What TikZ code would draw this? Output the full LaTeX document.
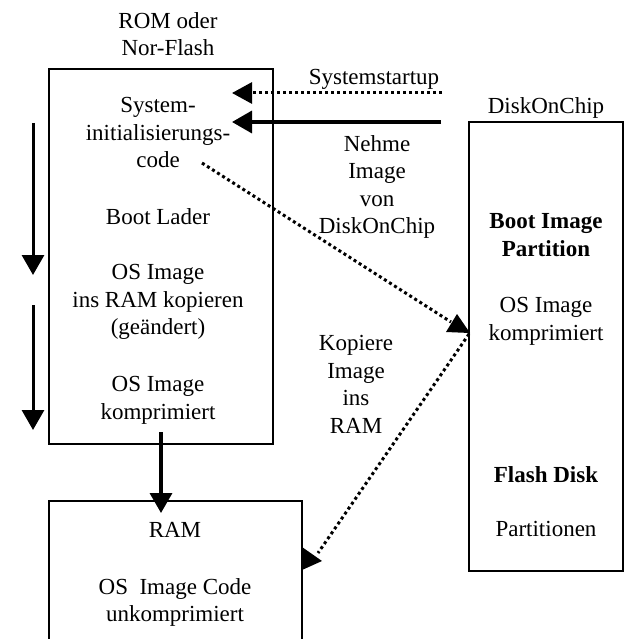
\documentclass[tikz,border=0pt]{standalone}
\usepackage{fontspec}
\setmainfont{Liberation Serif}
\usetikzlibrary{arrows.meta}
\begin{document}
\begin{tikzpicture}[x=1pt,y=-1pt,
  box/.style={draw, line width=1.2pt, inner sep=0pt, outer sep=0pt},
  lbl/.style={anchor=north, align=center, inner sep=0pt, font=\fontsize{23}{27.5}\selectfont},
  bigarrow/.style={line width=3.5pt, -{Triangle[length=20pt,width=22pt]}},
  dotline/.style={line width=3pt, dash pattern=on 3pt off 3pt},
  dotarrow/.style={dotline, -{Triangle[length=20pt,width=21pt]}},
]
\useasboundingbox (0,0) rectangle (624,639);
\clip (0,0) rectangle (624,639);

% boxes
\node[box, minimum width=224pt, minimum height=375pt] (rom) at (161,256.5) {};
\node[box, minimum width=154pt, minimum height=449pt] (doc) at (546,346.5) {};
\node[box, minimum width=253pt, minimum height=150pt] (ram) at (175.5,576) {};

% labels
\node[lbl] (romlbl) at (168,12.3) {ROM oder\\Nor-Flash};
\node[lbl] (sysinit) at (158,97.3) {System-\\initialisierungs-\\code};
\node[lbl] (boot) at (158,208.3) {Boot Lader};
\node[lbl] (copy) at (158,264.3) {OS Image\\ins RAM kopieren\\(geändert)};
\node[lbl] (osimg) at (158,376.3) {OS Image\\komprimiert};
\node[lbl] (startup) at (374,69.3) {Systemstartup};
\node[lbl] (nehme) at (377,135.3) {Nehme\\Image\\von\\DiskOnChip};
\node[lbl] (doclbl) at (546,97.3) {DiskOnChip};
\node[lbl, font=\fontsize{23}{27.5}\selectfont\bfseries] (bootpart) at (546,213.3) {Boot Image\\Partition};
\node[lbl] (docos) at (546,297.3) {OS Image\\komprimiert};
\node[lbl, font=\fontsize{23}{27.5}\selectfont\bfseries] (flash) at (546,466.3) {Flash Disk};
\node[lbl] (parts) at (546,521.3) {Partitionen};
\node[lbl] (kopiere) at (356,335.3) {Kopiere\\Image\\ins\\RAM};
\node[lbl] (ramlbl) at (175,522.3) {RAM};
\node[lbl] (ramcode) at (175,578.3) {OS\ \ Image Code\\unkomprimiert};

% connector end points
\coordinate (ssA) at (442,93);
\coordinate (ssB) at (232,93);
\coordinate (nhA) at (441,122);
\coordinate (nhB) at (232,122);
\coordinate (l1A) at (33,123);
\coordinate (l1B) at (33,275);
\coordinate (l2A) at (33,305);
\coordinate (l2B) at (33,430);
\coordinate (rrA) at (161,432);
\coordinate (rrB) at (161,513);
\coordinate (d1A) at (202,163);
\coordinate (d1B) at (451,322);
\coordinate (d2A) at (469,334);
\coordinate (d2B) at (318,553);

% connectors
\draw[dotarrow] (ssA) -- (ssB);
\draw[bigarrow] (nhA) -- (nhB);
\draw[bigarrow, line width=3pt] (l1A) -- (l1B);
\draw[bigarrow, line width=3pt] (l2A) -- (l2B);
\draw[bigarrow] (rrA) -- (rrB);
\draw[dotline] (d1A) -- (d1B);
\fill (446,332) -- (457,314) -- (470,333) -- cycle;
\draw[dotline] (d2A) -- (d2B);
\fill (302,547) -- (322,561) -- (302,570) -- cycle;
\end{tikzpicture}
\end{document}
